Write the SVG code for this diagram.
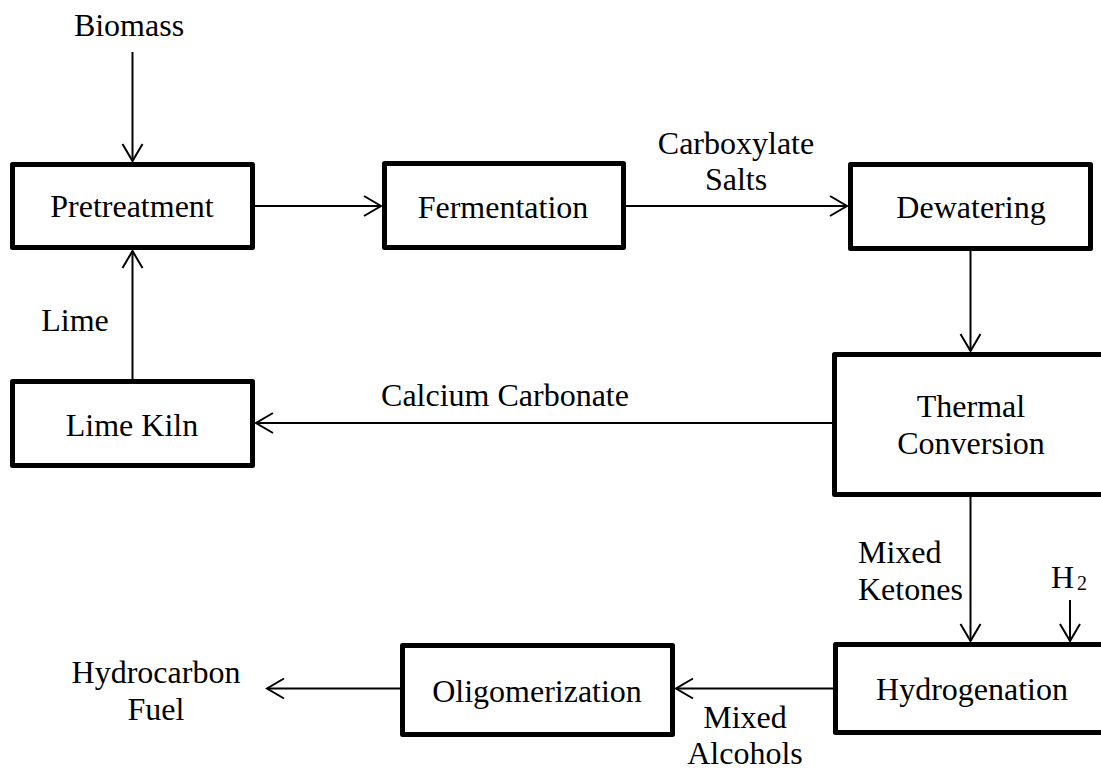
<svg xmlns="http://www.w3.org/2000/svg" width="1101" height="769" viewBox="0 0 1101 769">
<style>
.box{fill:#fff;stroke:#000;stroke-width:5;stroke-linejoin:round}
.t{font-family:"Liberation Serif","Times New Roman",serif;font-size:32px;fill:#000;text-anchor:middle}
.c{fill:none;stroke:#000;stroke-width:2}
</style>
<defs>
<marker id="ah" viewBox="-20 -12 22 24" refX="0" refY="0" markerWidth="22" markerHeight="24" markerUnits="userSpaceOnUse" orient="auto">
<path d="M-17,-10 L0,0 L-17,10" fill="none" stroke="#000" stroke-width="2"/>
</marker>
</defs>
<rect width="1101" height="769" fill="#fff"/>
<g id="connectors">
<line class="c" x1="132.5" y1="52" x2="132.5" y2="161" marker-end="url(#ah)"/>
<line class="c" x1="255" y1="206" x2="381" y2="206" marker-end="url(#ah)"/>
<line class="c" x1="626" y1="206" x2="847" y2="206" marker-end="url(#ah)"/>
<line class="c" x1="970.5" y1="251" x2="970.5" y2="351" marker-end="url(#ah)"/>
<line class="c" x1="832" y1="423" x2="256" y2="423" marker-end="url(#ah)"/>
<line class="c" x1="132.5" y1="379" x2="132.5" y2="251" marker-end="url(#ah)"/>
<line class="c" x1="970.5" y1="497" x2="970.5" y2="641" marker-end="url(#ah)"/>
<line class="c" x1="1070" y1="600" x2="1070" y2="641" marker-end="url(#ah)"/>
<line class="c" x1="833" y1="688.5" x2="676" y2="688.5" marker-end="url(#ah)"/>
<line class="c" x1="400" y1="688.5" x2="267" y2="688.5" marker-end="url(#ah)"/>
</g>
<g id="labels">
<text class="t" x="129" y="36">Biomass</text>
<text class="t" x="736" y="154">Carboxylate</text>
<text class="t" x="736" y="190">Salts</text>
<text class="t" x="75" y="331">Lime</text>
<text class="t" x="505" y="406">Calcium Carbonate</text>
<text class="t" x="858" y="563" style="text-anchor:start">Mixed</text>
<text class="t" x="858" y="600" style="text-anchor:start">Ketones</text>
<text class="t" x="1051" y="588" style="text-anchor:start">H<tspan font-size="20" dx="3" dy="2">2</tspan></text>
<text class="t" x="745" y="728">Mixed</text>
<text class="t" x="745" y="764">Alcohols</text>
<text class="t" x="156" y="683">Hydrocarbon</text>
<text class="t" x="156" y="720">Fuel</text>
</g>
<g id="pretreatment">
<rect class="box" x="12.5" y="164.5" width="240" height="83"/>
<text class="t" x="132" y="217">Pretreatment</text>
</g>
<g id="fermentation">
<rect class="box" x="384.5" y="163.5" width="239" height="84"/>
<text class="t" x="503" y="218">Fermentation</text>
</g>
<g id="dewatering">
<rect class="box" x="850.5" y="164.5" width="240" height="84"/>
<text class="t" x="971" y="218">Dewatering</text>
</g>
<g id="thermal-conversion">
<rect class="box" x="834.5" y="354.5" width="270" height="140"/>
<text class="t" x="971" y="417">Thermal</text>
<text class="t" x="971" y="454">Conversion</text>
</g>
<g id="lime-kiln">
<rect class="box" x="12.5" y="381.5" width="240" height="84"/>
<text class="t" x="132" y="436">Lime Kiln</text>
</g>
<g id="hydrogenation">
<rect class="box" x="835.5" y="644.5" width="270" height="88"/>
<text class="t" x="972" y="700">Hydrogenation</text>
</g>
<g id="oligomerization">
<rect class="box" x="402.5" y="645.5" width="270" height="89"/>
<text class="t" x="537" y="702">Oligomerization</text>
</g>
</svg>
